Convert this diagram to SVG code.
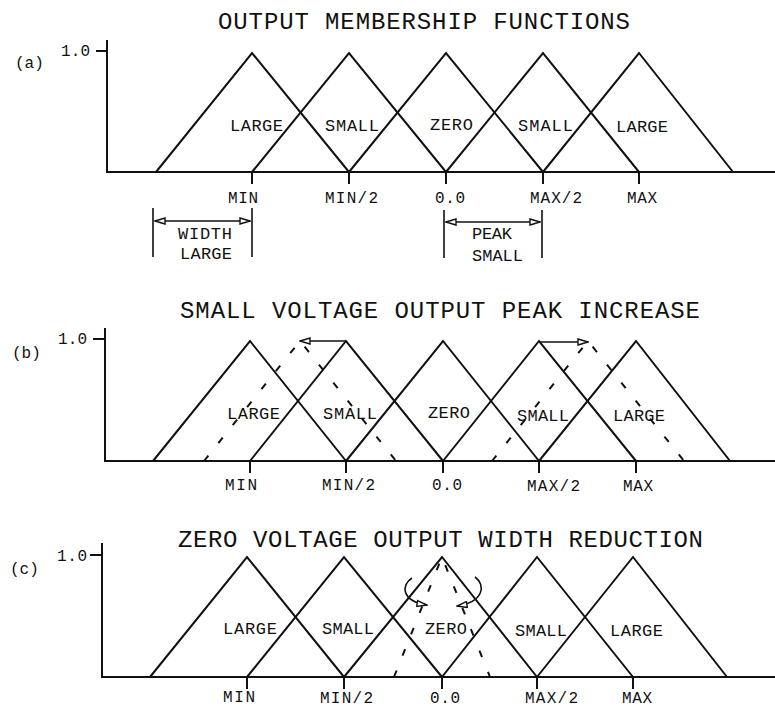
<svg xmlns="http://www.w3.org/2000/svg" width="775" height="709" viewBox="0 0 775 709">
<defs>
<style>
.ln{fill:none;stroke:#111;stroke-width:2;stroke-linejoin:miter}
.ax{fill:none;stroke:#111;stroke-width:2}
.bar{fill:none;stroke:#111;stroke-width:1.6}
.ds{fill:none;stroke:#111;stroke-width:2;stroke-dasharray:7 16}
.ar{fill:none;stroke:#111;stroke-width:1.6}
.t{font-family:"Liberation Mono","DejaVu Sans Mono",monospace;fill:#111}
.title{font-size:24px}
.lab{font-size:16px}
.sm{font-size:17px}
</style>
<marker id="ah" viewBox="0 0 12 8" refX="11" refY="4" markerWidth="12" markerHeight="8" markerUnits="userSpaceOnUse" orient="auto">
<path d="M1,1 L11,4 L1,7 Z" fill="#fff" stroke="#111" stroke-width="1.4"/>
</marker>
<marker id="ahs" viewBox="0 0 12 8" refX="11" refY="4" markerWidth="12" markerHeight="8" markerUnits="userSpaceOnUse" orient="auto-start-reverse">
<path d="M1,1 L11,4 L1,7 Z" fill="#fff" stroke="#111" stroke-width="1.4"/>
</marker>
</defs>
<rect width="775" height="709" fill="#fff"/>

<!-- Panel (a) -->
<g id="panel-a">
<text class="t title" x="218" y="29" textLength="412" lengthAdjust="spacing">OUTPUT MEMBERSHIP FUNCTIONS</text>
<text class="t lab" x="15" y="68">(a)</text>
<text class="t lab" x="61" y="56" textLength="29">1.0</text>
<path class="ax" d="M107,40 V172 H775 M96,51 H107"/>
<path class="ax" d="M252,172 v12 M349,172 v12 M446,172 v12 M543,172 v12 M639,172 v12"/>
<g id="a-large-min"><polyline class="ln" points="156,172 252,53 349,172"/><text class="t sm" x="230" y="131" textLength="53">LARGE</text></g>
<g id="a-small-min"><polyline class="ln" points="252,172 349,53 446,172"/><text class="t sm" x="325" y="131" textLength="54">SMALL</text></g>
<g id="a-zero"><polyline class="ln" points="349,172 446,53 543,172"/><text class="t sm" x="430" y="130" textLength="43">ZERO</text></g>
<g id="a-small-max"><polyline class="ln" points="446,172 543,53 639,172"/><text class="t sm" x="518" y="131" textLength="55">SMALL</text></g>
<g id="a-large-max"><polyline class="ln" points="543,172 639,53 733,172"/><text class="t sm" x="616" y="132" textLength="52">LARGE</text></g>
<text class="t lab" x="228" y="203" textLength="30">MIN</text>
<text class="t lab" x="325" y="203" textLength="53">MIN/2</text>
<text class="t lab" x="435" y="203" textLength="30">0.0</text>
<text class="t lab" x="530" y="203" textLength="52">MAX/2</text>
<text class="t lab" x="627" y="203" textLength="30">MAX</text>
<g id="a-width-large">
<path class="bar" d="M153,208 V257 M252,208 V257"/>
<line class="ar" x1="155" y1="221" x2="250" y2="221" marker-start="url(#ahs)" marker-end="url(#ah)"/>
<text class="t sm" x="178" y="239" textLength="54">WIDTH</text>
<text class="t sm" x="180" y="259" textLength="52">LARGE</text>
</g>
<g id="a-peak-small">
<path class="bar" d="M444,210 V258 M542,210 V258"/>
<line class="ar" x1="446" y1="222" x2="540" y2="222" marker-start="url(#ahs)" marker-end="url(#ah)"/>
<text class="t sm" x="472" y="239" textLength="40">PEAK</text>
<text class="t sm" x="472" y="261" textLength="51">SMALL</text>
</g>
</g>

<!-- Panel (b) -->
<g id="panel-b">
<text class="t title" x="180" y="318" textLength="520" lengthAdjust="spacing">SMALL VOLTAGE OUTPUT PEAK INCREASE</text>
<text class="t lab" x="12" y="358">(b)</text>
<text class="t lab" x="58" y="344" textLength="29">1.0</text>
<path class="ax" d="M105,328 V461 H775 M93,339 H105"/>
<path class="ax" d="M250,461 v12 M346,461 v12 M443,461 v12 M539,461 v12 M636,461 v12"/>
<g id="b-large-min"><polyline class="ln" points="153,461 250,341 346,461"/><text class="t sm" x="227" y="419" textLength="53">LARGE</text></g>
<g id="b-small-min"><polyline class="ln" points="250,461 346,341 443,461"/><text class="t sm" x="323" y="419" textLength="54">SMALL</text></g>
<g id="b-zero"><polyline class="ln" points="346,461 443,341 539,461"/><text class="t sm" x="428" y="418" textLength="42">ZERO</text></g>
<g id="b-small-max"><polyline class="ln" points="443,461 539,341 636,461"/><text class="t sm" x="517" y="421" textLength="52">SMALL</text></g>
<g id="b-large-max"><polyline class="ln" points="539,461 636,341 730,461"/><text class="t sm" x="613" y="421" textLength="52">LARGE</text></g>
<text class="t lab" x="225" y="490" textLength="32">MIN</text>
<text class="t lab" x="322" y="490" textLength="53">MIN/2</text>
<text class="t lab" x="432" y="490" textLength="30">0.0</text>
<text class="t lab" x="527" y="491" textLength="53">MAX/2</text>
<text class="t lab" x="623" y="491" textLength="30">MAX</text>
</g>

<!-- Panel (c) -->
<g id="panel-c">
<text class="t title" x="178" y="547" textLength="525" lengthAdjust="spacing">ZERO VOLTAGE OUTPUT WIDTH REDUCTION</text>
<text class="t lab" x="10" y="574">(c)</text>
<text class="t lab" x="57" y="561" textLength="30">1.0</text>
<path class="ax" d="M102,543 V677 H775 M90,555 H102"/>
<path class="ax" d="M247,677 v12 M344,677 v12 M442,677 v12 M537,677 v12 M633,677 v12"/>
<g id="c-large-min"><polyline class="ln" points="150,677 247,557 344,677"/><text class="t sm" x="223" y="634" textLength="54">LARGE</text></g>
<g id="c-small-min"><polyline class="ln" points="247,677 344,557 442,677"/><text class="t sm" x="322" y="634" textLength="52">SMALL</text></g>
<g id="c-zero"><polyline class="ln" points="344,677 442,557 537,677"/><text class="t sm" x="425" y="634" textLength="42">ZERO</text></g>
<g id="c-small-max"><polyline class="ln" points="442,677 537,557 633,677"/><text class="t sm" x="515" y="636" textLength="52">SMALL</text></g>
<g id="c-large-max"><polyline class="ln" points="537,677 633,557 727,677"/><text class="t sm" x="610" y="636" textLength="53">LARGE</text></g>
<text class="t lab" x="223" y="702" textLength="32">MIN</text>
<text class="t lab" x="320" y="703" textLength="53">MIN/2</text>
<text class="t lab" x="430" y="703" textLength="30">0.0</text>
<text class="t lab" x="525" y="703" textLength="53">MAX/2</text>
<text class="t lab" x="622" y="703" textLength="30">MAX</text>
</g>

<!-- Connectors: shifted/narrowed functions and arrows -->
<g id="connectors">
<polyline class="ds" points="204,461 300,341 396,461"/>
<polyline class="ds" points="492,461 588,341 684,461"/>
<line class="ar" x1="346" y1="341" x2="300" y2="341" marker-end="url(#ah)"/>
<line class="ar" x1="539" y1="342" x2="588" y2="342" marker-end="url(#ah)"/>
<polyline class="ds" points="394,677 442,557 490,677"/>
<path class="ar" d="M412,578 C401,585 401,601 427,605" marker-end="url(#ah)"/>
<path class="ar" d="M475,577 C486,585 484,602 457,606" marker-end="url(#ah)"/>
</g>
</svg>
